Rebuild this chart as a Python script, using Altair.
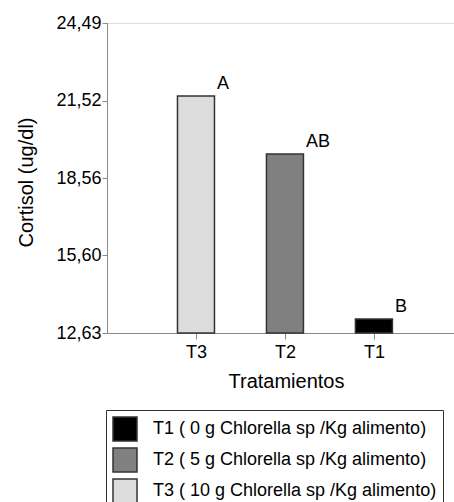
import altair as alt
import pandas as pd

treatments = ["T3", "T2", "T1"]
positions = [1, 2, 3]
cortisol = [21.70, 19.48, 13.17]
letters = ["A", "AB", "B"]
legend_labels = [
    "T1 ( 0 g Chlorella sp /Kg alimento)",
    "T2 ( 5 g Chlorella sp /Kg alimento)",
    "T3 ( 10 g Chlorella sp /Kg alimento)",
]
legend_for = {"T1": legend_labels[0], "T2": legend_labels[1], "T3": legend_labels[2]}
colors = ["#000000", "#808080", "#dcdcdc"]
y_ticks = [12.63, 15.60, 18.56, 21.52, 24.49]
y_min, y_max = 12.63, 24.49

df = pd.DataFrame({
    "trat": treatments,
    "pos": positions,
    "cortisol": cortisol,
    "letra": letters,
    "grupo": [legend_for[t] for t in treatments],
})

label_expr = " : ".join(
    [f"datum.value == {p} ? '{t}'" for p, t in zip(positions[:-1], treatments[:-1])]
    + [f"'{treatments[-1]}'"]
)

FONT = "Liberation Sans"

x_enc = alt.X(
    "pos:Q",
    scale=alt.Scale(domain=[0, 3.9], nice=False, zero=False, padding=0),
    axis=alt.Axis(
        values=positions, labelExpr=label_expr, title="Tratamientos",
        grid=False, tickSize=6, labelPadding=4, labelFontSize=18,
        titleFontSize=20, titleFontWeight="normal", titleX=179, titleY=54,
        titleBaseline="alphabetic", titleAnchor="start", titleAlign="center",
        labelFlush=False,
    ),
)
y_enc = alt.Y(
    "cortisol:Q",
    scale=alt.Scale(domain=[y_min, y_max], nice=False, zero=False, padding=0),
    axis=alt.Axis(
        values=y_ticks, labelExpr="replace(format(datum.value, '.2f'), '.', ',')",
        title="Cortisol (ug/dl)", grid=False, tickSize=5, labelPadding=1,
        labelFontSize=18, titleFontSize=20, titleFontWeight="normal",
        titleX=-75, titleY=159, titleBaseline="alphabetic", titleAngle=270,
        titleAnchor="start", titleAlign="center", labelFlush=False,
    ),
)

bars = alt.Chart(df).mark_bar(size=37, stroke="#333333", strokeWidth=1.5).encode(
    x=x_enc,
    y=y_enc,
    y2=alt.datum(y_min),
    color=alt.Color(
        "grupo:N",
        scale=alt.Scale(domain=legend_labels, range=colors),
        legend=alt.Legend(
            orient="none", legendX=-1, legendY=387, title=None,
            symbolType="square", symbolSize=576, symbolStrokeColor="#333333",
            symbolStrokeWidth=1.5, symbolOpacity=1, labelFontSize=18,
            labelOffset=15, rowPadding=1, padding=6, strokeColor="#333333",
            fillColor="white", direction="vertical", labelFont=FONT,
            labelColor="black", labelLimit=400,
        ),
    ),
)

text = alt.Chart(df).mark_text(
    align="left", baseline="alphabetic", dx=21, dy=-7, fontSize=18, font=FONT,
    color="black",
).encode(x="pos:Q", y="cortisol:Q", text="letra:N")

chart = (
    alt.layer(bars, text)
    .properties(
        width=347, height=310, autosize="none",
        padding={"left": 107, "top": 23, "right": 0, "bottom": 169},
    )
    .configure_view(stroke=None)
    .configure_axis(
        domainColor="#333333", tickColor="#333333", labelColor="black",
        titleColor="black", labelFont=FONT, titleFont=FONT, domainWidth=1.5,
        tickWidth=1.5,
    )
    .configure(background="white")
)

chart.save("out.html", embed_options={"renderer": "svg", "actions": False})
